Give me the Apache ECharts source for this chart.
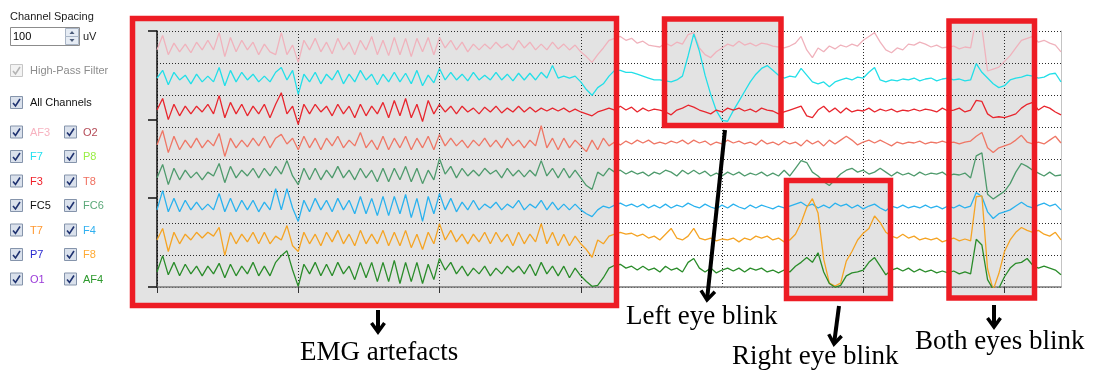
<!DOCTYPE html>
<html><head><meta charset="utf-8">
<script src="https://cdn.jsdelivr.net/npm/echarts@6/dist/echarts.min.js"></script>
<style>html,body{margin:0;padding:0;background:#fff}#c{width:1097px;height:372px}</style>
</head><body><div id="c"></div><script>
// ---- data (uV deviation from each channel baseline, one sample every 0.04 s) ----
const channelNames = ['AF3','F7','F3','T8','FC6','F4','F8','AF4'];
const channelColors = ['#f0b2bc','#22dfe8','#e8262e','#ef7665','#4e9a6c','#2ab2ee','#f5a424','#2a8c2a'];
const sampleStep = 0.04;           // seconds per sample
const channelSpacing = 100;        // uV per row
const timeTickValues = [0,1,2,3,5,6];
const ampTickValues = [0,278,522,800];
const panelLeft = ['AF3','F7','F3','FC5','T7','P7','O1'];
const panelLeftColors = ['#f7b3c0','#22e0f0','#f0202a','#111111','#ff9830','#2a2ad0','#9a3ad8'];
const panelRight = ['O2','P8','T8','FC6','F4','F8','AF4'];
const panelRightColors = ['#b44a56','#99ee44','#f07060','#5aa878','#30b0f0','#ffaa33','#2e9a2e'];
const annotations = ['EMG artefacts','Left eye blink','Right eye blink','Both eyes blink'];

const AF3 = [-9,36,-24,12,-15,9,-18,15,-9,21,
 -9,45,-30,30,-15,21,-9,15,-24,9,
 -15,-24,45,-24,6,-48,21,-9,27,-15,
 15,-21,27,-9,15,-24,21,-9,33,-24,
 21,-27,30,-24,27,-30,27,-15,30,-24,
 30,-3,21,-9,15,-15,9,-9,9,-6,
 15,-3,9,-9,21,-3,15,-9,9,-9,
 15,-6,9,-9,6,-15,-30,-48,-24,-3,
 21,27,33,21,27,12,18,6,3,0,
 12,3,15,9,39,45,-3,-24,-33,-15,
 -3,9,3,18,6,12,3,12,9,3,
 0,-3,3,12,33,-9,-33,-3,-15,3,
 -6,6,0,9,3,21,33,45,15,-9,
 -18,-3,-9,9,6,15,9,0,6,-3,
 0,3,-6,0,-3,90,60,-75,-69,-63,
 -45,-27,-3,21,27,33,15,21,12,6,-15];
const F7 = [3,27,-18,21,-3,12,-15,15,-9,9,
 -9,36,-21,27,-9,21,-3,15,-9,9,
 -9,21,36,-3,27,-48,15,-9,21,-15,
 15,-3,27,-15,15,-9,27,-3,15,-18,
 15,-9,21,-9,18,-15,27,-21,12,-12,
 33,-3,21,-3,15,-6,21,-3,12,-3,
 21,-3,15,-6,18,-3,18,-3,21,3,
 42,3,9,3,9,-9,-33,-51,-27,-15,
 9,27,27,21,21,15,9,3,-3,-3,
 -6,-9,-3,9,72,141,87,12,-48,-99,
 -129,-132,-99,-69,-39,-9,15,33,42,27,
 12,3,9,6,33,12,-9,-15,-9,-24,
 -9,-3,3,-3,6,3,21,36,-3,-9,
 -3,-6,0,-3,3,-6,0,3,-6,0,
 3,-3,0,-6,-3,48,21,3,-15,-27,
 -21,-3,3,6,12,9,3,6,15,18,-9];
const F3 = [3,39,-27,21,-15,15,-9,15,-3,21,
 -9,48,-21,27,-9,21,-15,15,-9,21,
 -21,21,57,-9,15,-42,21,-9,21,-3,
 15,-15,21,-9,15,-21,21,-15,15,-9,
 27,-21,33,-15,39,-21,21,-33,33,-9,
 21,-3,15,-9,15,-3,9,-9,12,-3,
 15,-6,9,-3,15,-3,12,-3,9,0,
 9,0,9,-3,6,-3,-9,-15,-3,3,
 9,3,15,3,12,-3,9,0,6,3,
 -3,-12,3,9,18,12,3,-3,-9,3,
 -3,9,3,9,0,6,-3,9,3,0,
 -9,-3,3,9,15,-15,-21,3,15,-3,
 9,-6,9,-3,3,0,9,-3,6,0,
 6,-3,3,0,6,0,6,3,-3,9,
 0,3,9,-3,3,33,30,-9,-21,-18,
 -21,-15,-9,9,21,27,3,15,9,-3,-12];
const T8 = [-6,39,-30,21,-21,9,-15,15,-15,9,
 -9,30,-42,15,-15,9,-12,15,-9,21,
 -15,15,27,-3,15,-21,21,-15,15,-21,
 15,-9,21,-15,9,-9,33,-15,9,-21,
 21,-21,15,-15,21,-21,15,-15,21,-21,
 27,-9,15,-9,9,-15,9,-9,15,-12,
 9,-15,15,-9,9,-15,9,-9,54,-15,
 15,-21,15,-15,9,-9,-27,9,-21,15,
 -9,3,-6,6,-3,9,0,9,-3,3,
 -3,6,0,9,-3,9,0,6,-6,3,
 -3,9,0,6,-3,3,-6,9,-3,3,
 -6,6,-3,3,-9,9,-3,6,-9,9,
 -3,9,21,9,-6,3,9,0,9,0,
 -9,3,-3,3,0,6,-3,3,0,6,
 0,3,-3,3,6,21,33,-15,-30,-15,
 -9,-3,9,24,3,-3,3,-3,9,21,0];
const FC6 = [-9,33,-30,21,-15,15,-9,9,-15,9,
 -3,36,-24,27,-9,15,-3,21,-9,21,
 -3,27,3,45,-3,-30,21,-15,21,-15,
 15,-9,27,-9,15,-15,21,-9,15,-21,
 21,-21,21,-15,27,-21,21,-27,15,-15,
 51,3,27,-9,21,-3,15,-3,21,3,
 15,-9,21,-3,15,-6,15,-3,45,-3,
 21,-9,21,-9,15,-9,-33,-45,9,-3,
 21,9,15,3,12,3,9,-3,9,3,
 15,9,-3,15,3,15,3,12,-3,6,
 -3,9,0,9,-3,6,0,9,-3,6,
 -3,15,-3,21,45,39,9,-3,-21,-33,
 -15,3,15,21,9,15,3,9,21,9,
 -3,9,0,6,-3,9,0,6,3,9,
 -3,3,0,6,-9,60,69,-60,-75,-63,
 -51,-27,9,36,27,15,6,-3,9,-3,0];
const F4 = [-9,51,-15,27,-15,21,-9,15,-9,9,
 -9,42,-15,27,-15,21,-9,21,-15,15,
 -9,57,-9,57,-3,-45,21,-15,27,-9,
 21,-15,27,-9,21,-21,33,-21,27,-27,
 33,-27,33,-21,39,-33,27,-45,33,-21,
 42,-9,27,-15,15,-9,21,-9,9,-3,
 15,-9,9,-3,21,-9,9,-3,21,-9,
 15,-9,9,-9,9,-9,-21,-30,-9,3,
 -3,6,12,3,9,0,9,-3,6,-3,
 9,-3,6,0,12,3,-3,9,0,-6,
 6,-3,9,0,-6,6,-3,6,0,-6,
 3,-3,3,9,15,3,9,-3,6,-3,
 12,3,9,-3,6,-6,3,9,-3,-12,
 3,-3,6,-3,3,-3,6,-3,3,-6,
 3,-3,6,-3,3,45,33,-15,-36,-21,
 -15,-9,3,15,3,-3,6,12,3,9,-9];
const F8 = [-3,33,-39,21,-15,15,-3,21,3,21,
 9,36,-51,21,-15,15,-9,21,-15,21,
 -15,9,-3,42,-21,-39,21,-15,15,-21,
 21,-9,27,-15,15,-21,27,-15,15,-15,
 27,-21,21,-21,27,-27,15,-33,21,-15,
 48,-3,27,-9,15,-15,15,-9,21,-15,
 21,-9,15,-21,21,-15,15,-9,48,-15,
 21,-21,15,-21,9,-15,-33,-57,-3,-15,
 9,15,21,15,18,9,15,3,9,-3,
 15,33,3,-3,9,33,3,-3,3,-6,
 0,-3,3,-9,3,-3,9,3,9,-3,
 3,-9,-3,15,51,99,126,81,-63,-138,
 -147,-138,-69,-39,-3,18,33,72,51,21,
 9,3,15,3,9,-3,3,-3,3,-9,
 -3,3,-6,0,-6,132,135,-93,-159,-108,
 -39,-3,21,36,27,21,27,15,9,21,-3];
const AF4 = [-3,48,-12,27,-15,21,-9,15,-15,15,
 -9,24,-21,21,-15,15,-9,27,-15,15,
 -15,27,48,63,3,-48,21,-9,27,-15,
 21,-15,27,-9,15,-27,27,-21,27,-33,
 27,-33,33,-39,27,-33,27,-39,21,-27,
 39,3,27,-9,15,-15,9,-9,15,-15,
 9,-9,15,-3,15,-9,21,-15,27,-9,
 15,-15,15,-21,9,-15,-33,-48,-45,-21,
 9,18,21,9,15,3,15,3,9,-3,
 15,3,9,-3,27,39,9,-3,9,-6,
 3,9,0,9,-3,9,3,9,-3,3,
 -6,3,-3,15,27,42,27,57,-3,-39,
 -51,-45,-15,-6,-3,3,27,42,15,-12,
 3,9,0,9,-3,6,-3,3,-6,0,
 -6,0,-9,-3,-9,99,81,-27,-57,-54,
 -18,9,24,27,39,18,9,15,9,3,-12];
const traces = [AF3, F7, F3, T8, FC6, F4, F8, AF4];

// ---- chart ----
const chart = echarts.init(document.getElementById('c'), null, {renderer:'canvas', width:1097, height:372});
const rows = channelNames.length;
const yMax = rows * channelSpacing;
const tMax = (AF3.length - 1) * sampleStep;

const series = channelNames.map((name, k) => ({
  type: 'line', name,
  data: traces[k].map((v, i) => [i * sampleStep, (rows - 0.5 - k) * channelSpacing + v]),
  xAxisIndex: 0, yAxisIndex: 0,
  symbol: 'none', showSymbol: false, clip: true, silent: true,
  lineStyle: {color: channelColors[k], width: 1.3},
  itemStyle: {color: channelColors[k]},
  z: 3
}));

const dotted = {color: '#2a2a2a', width: 1, type: [1, 2]};
const panelFont = '11px "Liberation Sans", Arial, sans-serif';
const serifFont = '27px "Liberation Serif", "Times New Roman", serif';
const RED = '#ed1c24';

function checkbox(x, y, disabled) {
  return {type: 'group', x: x, y: y, z: 20, children: [
    {type: 'rect', shape: {x: 0, y: 0, width: 12, height: 12},
     style: {fill: disabled ? '#f3f3f3' : '#dae1ec', stroke: disabled ? '#c6c6c6' : '#8594ab', lineWidth: 1}},
    {type: 'polyline', shape: {points: [[2.5, 6.5], [5, 9.5], [9.5, 2.5]]},
     style: {stroke: disabled ? '#b3b3b3' : '#1f3270', lineWidth: 1.6, fill: null}}
  ]};
}
function txt(text, x, y, color, font, z) {
  return {type: 'text', z: z || 20, style: {text: text, x: x, y: y, fill: color, font: font,
    textVerticalAlign: 'middle', verticalAlign: 'middle', textAlign: 'left', align: 'left'}};
}
function box(x, y, w, h) {
  return [
    {type: 'rect', z: -10, shape: {x: x, y: y, width: w, height: h}, style: {fill: '#e3e3e3'}},
    {type: 'rect', z: 60, shape: {x: x, y: y, width: w, height: h}, style: {fill: null, stroke: RED, lineWidth: 5.5}}
  ];
}
function arrow(x1, y1, x2, y2, hw) {
  const dx = x2 - x1, dy = y2 - y1, L = Math.sqrt(dx*dx + dy*dy);
  const ux = dx / L, uy = dy / L, px = -uy, py = ux;
  const bx = x2 - ux * 9, by = y2 - uy * 9;
  return [
    {type: 'line', z: 60, shape: {x1: x1, y1: y1, x2: x2 - ux * 1, y2: y2 - uy * 1}, style: {stroke: '#000', lineWidth: 4}},
    {type: 'polyline', z: 60, shape: {points: [[bx + px * hw, by + py * hw], [x2, y2], [bx - px * hw, by - py * hw]]},
     style: {stroke: '#000', lineWidth: 3.5, fill: null}}
  ];
}

const graphics = [];
graphics.push(...box(132.5, 18.5, 484, 287));
graphics.push(...box(664.5, 19, 116.5, 106.5));
graphics.push(...box(786.5, 180.5, 104, 118));
graphics.push(...box(949, 21, 85.5, 277));

graphics.push(...arrow(378, 310, 378, 332, 6.5));
graphics.push(...arrow(725, 130, 707, 300, 7));
graphics.push(...arrow(839, 306, 834, 344, 6.5));
graphics.push(...arrow(994, 305, 994, 327, 6.5));

graphics.push(txt(annotations[0], 300, 353, '#000', serifFont, 60));
graphics.push(txt(annotations[1], 626, 317, '#000', serifFont, 60));
graphics.push(txt(annotations[2], 732, 357, '#000', serifFont, 60));
graphics.push(txt(annotations[3], 915, 342, '#000', serifFont, 60));

// left control panel
graphics.push(txt('Channel Spacing', 10, 17, '#1a1a1a', panelFont));
graphics.push({type: 'rect', z: 20, shape: {x: 10.5, y: 27.5, width: 69, height: 18}, style: {fill: '#fff', stroke: '#8c8c8c', lineWidth: 1}});
graphics.push(txt('100', 13, 37, '#000', panelFont));
graphics.push({type: 'rect', z: 21, shape: {x: 65.5, y: 28.5, width: 13, height: 8}, style: {fill: '#e6ecf4', stroke: '#a9b5c6', lineWidth: 1}});
graphics.push({type: 'rect', z: 21, shape: {x: 65.5, y: 36.5, width: 13, height: 8}, style: {fill: '#e6ecf4', stroke: '#a9b5c6', lineWidth: 1}});
graphics.push({type: 'polygon', z: 22, shape: {points: [[69.5, 34], [72, 31], [74.5, 34]]}, style: {fill: '#4a5a78'}});
graphics.push({type: 'polygon', z: 22, shape: {points: [[69.5, 39], [72, 42], [74.5, 39]]}, style: {fill: '#4a5a78'}});
graphics.push(txt('uV', 83, 36.5, '#1a1a1a', panelFont));
graphics.push(checkbox(10.5, 64.5, true));
graphics.push(txt('High-Pass Filter', 30, 70.5, '#8c8c8c', panelFont));
graphics.push(checkbox(10.5, 96.5, false));
graphics.push(txt('All Channels', 30, 102.5, '#111', panelFont));
panelLeft.forEach((n, r) => {
  const cy = 132 + 24.5 * r;
  graphics.push(checkbox(10.5, cy - 6, false));
  graphics.push(txt(n, 30, cy + 0.5, panelLeftColors[r], panelFont));
});
panelRight.forEach((n, r) => {
  const cy = 132 + 24.5 * r;
  graphics.push(checkbox(64.5, cy - 6, false));
  graphics.push(txt(n, 83, cy + 0.5, panelRightColors[r], panelFont));
});

const option = {
  backgroundColor: '#ffffff',
  animation: false,
  grid: {left: 157, right: 36, top: 31, bottom: 85, containLabel: false},
  xAxis: [
    {type: 'value', min: 0, max: tMax, interval: 1,
     axisLine: {show: false}, axisTick: {show: false}, axisLabel: {show: false},
     splitLine: {show: true, lineStyle: dotted}},
    {type: 'value', min: 0, max: tMax, interval: 1, position: 'bottom',
     axisLine: {show: true, lineStyle: {color: '#7a7a7a', width: 1.5}},
     axisTick: {show: true, inside: false, length: 6, customValues: timeTickValues, lineStyle: {color: '#333', width: 1}},
     axisLabel: {show: false}, splitLine: {show: false}}
  ],
  yAxis: [
    {type: 'value', min: 0, max: yMax, interval: channelSpacing,
     axisLine: {show: false}, axisTick: {show: false}, axisLabel: {show: false},
     splitLine: {show: true, lineStyle: dotted}},
    {type: 'value', min: 0, max: yMax, interval: yMax, position: 'left',
     axisLine: {show: true, onZero: false, lineStyle: {color: '#111', width: 1.5}},
     axisTick: {show: true, inside: false, length: 9, customValues: ampTickValues, lineStyle: {color: '#111', width: 1.5}},
     axisLabel: {show: false}, splitLine: {show: false}},
    {type: 'value', min: 0, max: yMax, position: 'right',
     axisLine: {show: true, onZero: false, lineStyle: {color: '#c4c4c4', width: 1}},
     axisTick: {show: false}, axisLabel: {show: false}, splitLine: {show: false}}
  ],
  series: series,
  graphic: {elements: graphics}
};
chart.setOption(option);
</script></body></html>
